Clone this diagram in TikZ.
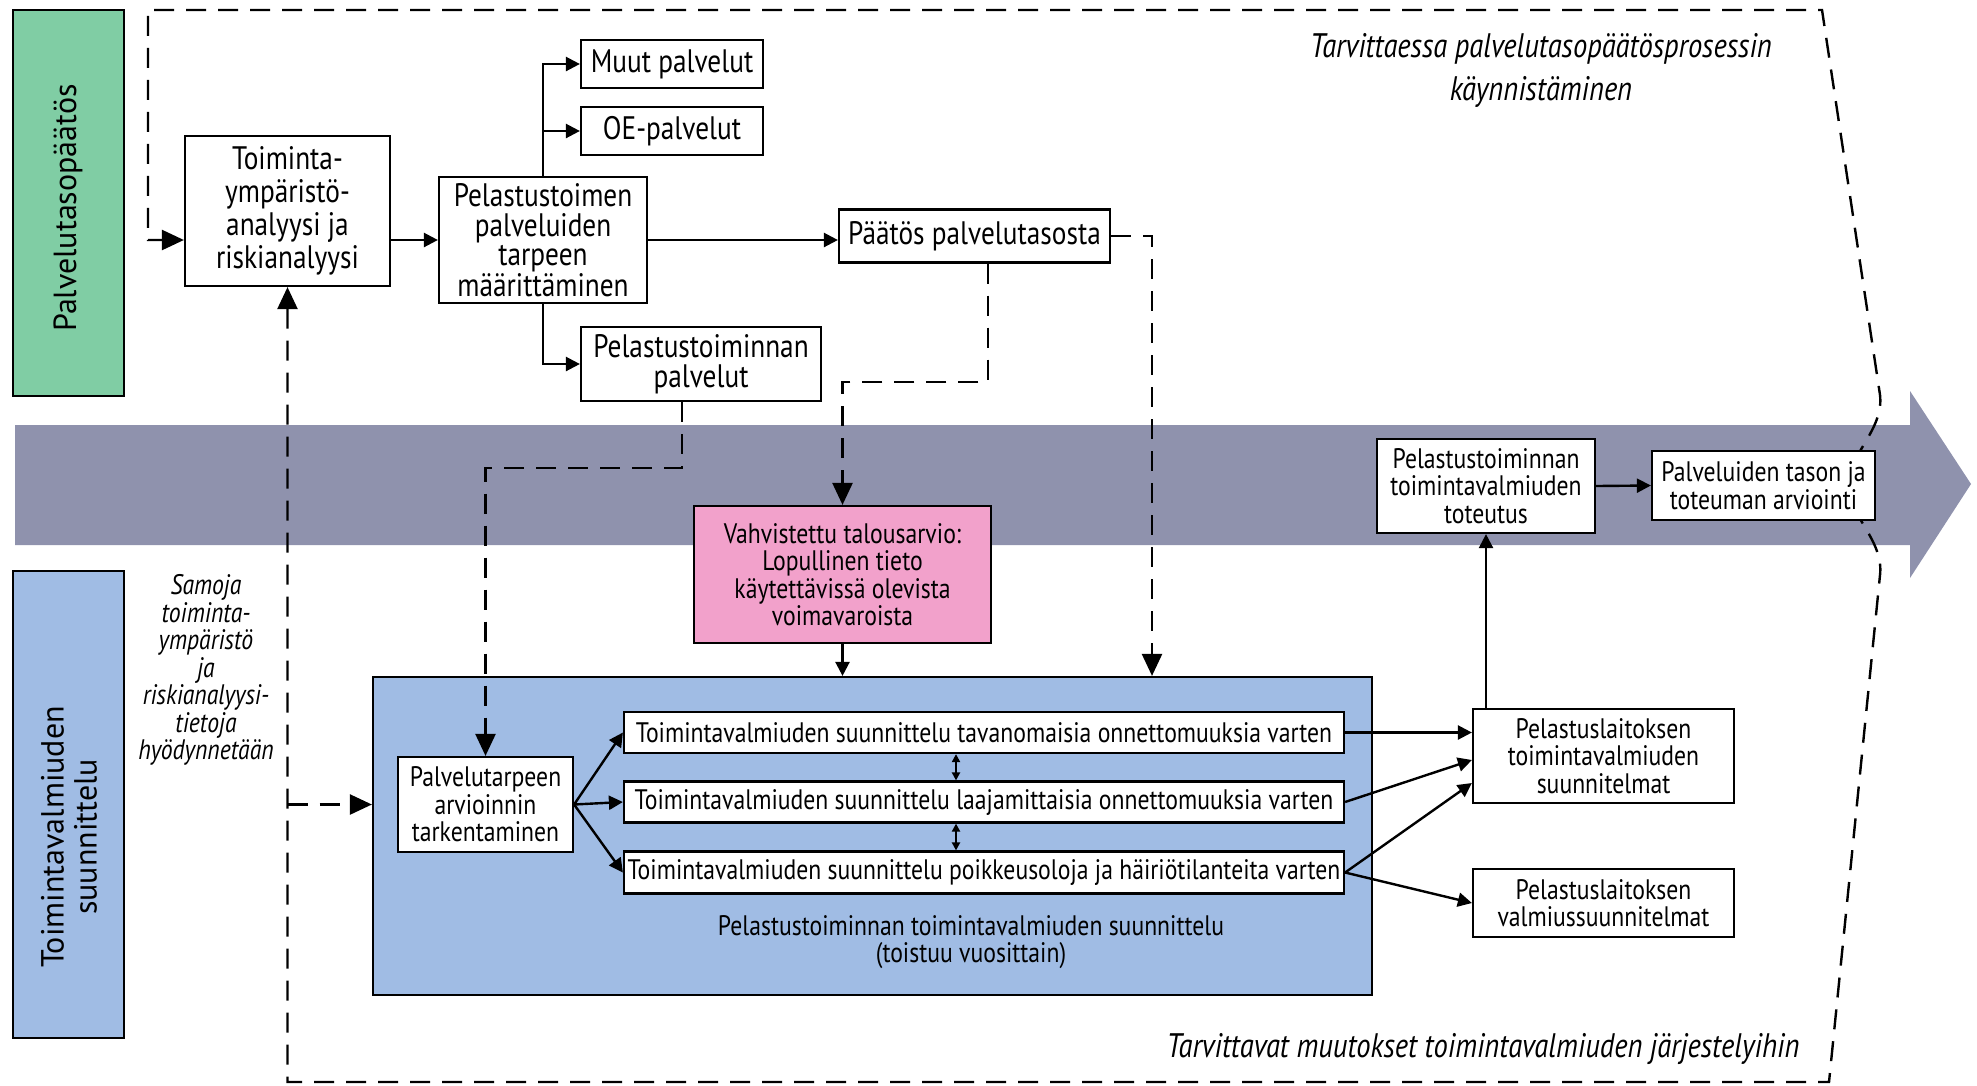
\documentclass[tikz,border=0pt]{standalone}
\usepackage{fontspec}
\setmainfont[FakeStretch=0.84]{PT Sans}
\newfontfamily\sidefont{PT Sans}
\usetikzlibrary{arrows.meta,calc}

\newcommand{\bigtxt}{\fontsize{32.5}{30}\selectfont}
\newcommand{\smltxt}{\fontsize{28.2}{27.5}\selectfont}

\definecolor{paatosgreen}{RGB}{128,205,164}
\definecolor{suunnblue}{RGB}{160,188,228}
\definecolor{bandgrey}{RGB}{143,146,173}
\definecolor{talouspink}{RGB}{242,161,203}

\begin{document}
\begin{tikzpicture}[x=1pt,y=-1pt,
    box/.style={draw, line width=2.2pt, fill=white, align=center, inner sep=0pt, font=\smltxt},
    bigbox/.style={box, font=\bigtxt},
    arr/.style={line width=2.4pt, -{Triangle[length=14pt,width=14pt]}},
    darr/.style={line width=2.4pt, dash pattern=on 20pt off 12pt, -{Triangle[length=22pt,width=20pt]}},
    dblarr/.style={line width=2pt, {Triangle[length=8pt,width=8pt]}-{Triangle[length=8pt,width=8pt]}},
    note/.style={align=center, font=\fontsize{34}{36}\selectfont\itshape}]
  \useasboundingbox (0,0) rectangle (1977,1085);

  % Draw the time arrow in the middle
  \fill[bandgrey] (15,425) -- (1910,425) -- (1910,391) -- (1971,484) -- (1910,578) -- (1910,545) -- (15,545) -- cycle;

  % Draw the two phase labels on the left
  \draw[line width=2.2pt, fill=paatosgreen] (13,10) rectangle (124,396);
  \node[rotate=90, font=\sidefont\fontsize{32}{33}\selectfont] (tasolbl) at (68,208) {Palvelutasopäätös};
  \draw[line width=2.2pt, fill=suunnblue] (13,571) rectangle (124,1038);
  \node[rotate=90, align=center, font=\sidefont\fontsize{32}{33}\selectfont] (valmlbl) at (69,837) {Toimintavalmiuden\\suunnittelu};

  % Palvelutasopaatos: upper boxes
  \node[bigbox, minimum width=205pt, minimum height=150pt, font=\fontsize{32.5}{33}\selectfont] (tmy) at (287.5,211) {Toiminta-\\ympäristö-\\analyysi ja\\riskianalyysi};
  \node[bigbox, minimum width=208pt, minimum height=126pt, font=\fontsize{32.5}{29.5}\selectfont] (pst) at (543,240) {Pelastustoimen\\palveluiden\\tarpeen\\määrittäminen};
  \node[bigbox, minimum width=182pt, minimum height=48pt] (muut) at (672,64) {Muut palvelut};
  \node[bigbox, minimum width=182pt, minimum height=48pt] (oe) at (672,131) {OE-palvelut};
  \node[bigbox, minimum width=240pt, minimum height=74pt, font=\fontsize{32.5}{29.5}\selectfont] (ptp) at (701,364) {Pelastustoiminnan\\palvelut};
  \node[bigbox, minimum width=271pt, minimum height=53pt] (paatos) at (974.5,236) {Päätös palvelutasosta};

  % Toimintavalmiuden suunnittelu: lower boxes
  \node[draw, line width=2.2pt, fill=suunnblue, minimum width=999pt, minimum height=318pt] (suunn) at (872.5,836) {};
  \node[align=center, font=\smltxt] (suunnlbl) at (971,942) {Pelastustoiminnan toimintavalmiuden suunnittelu\\(toistuu vuosittain)};
  \node[box, fill=talouspink, minimum width=297pt, minimum height=137pt] (talous) at (842.5,574.5) {Vahvistettu talousarvio:\\Lopullinen tieto\\käytettävissä olevista\\voimavaroista};
  \node[box, minimum width=175pt, minimum height=95pt] (tark) at (485.5,804.5) {Palvelutarpeen\\arvioinnin\\tarkentaminen};
  \node[box, minimum width=720pt, minimum height=41pt] (tv1) at (984,732.5) {Toimintavalmiuden suunnittelu tavanomaisia onnettomuuksia varten};
  \node[box, minimum width=720pt, minimum height=41pt] (tv2) at (984,802) {Toimintavalmiuden suunnittelu laajamittaisia onnettomuuksia varten};
  \node[box, minimum width=720pt, minimum height=42pt] (tv3) at (984,872.5) {Toimintavalmiuden suunnittelu poikkeusoloja ja häiriötilanteita varten};
  \node[box, minimum width=261pt, minimum height=94pt] (suun) at (1603.5,756) {Pelastuslaitoksen\\toimintavalmiuden\\suunnitelmat};
  \node[box, minimum width=261pt, minimum height=68pt] (valm) at (1603.5,903) {Pelastuslaitoksen\\valmiussuunnitelmat};
  \node[box, minimum width=218pt, minimum height=94pt] (toteutus) at (1486,486) {Pelastustoiminnan\\toimintavalmiuden\\toteutus};

  % Italic notes
  \node[note, font=\fontsize{34}{43}\selectfont\itshape] (ylanote) at (1541,70) {Tarvittaessa palvelutasopäätösprosessin\\käynnistäminen};
  \node[note] (alanote) at (1483,1049) {Tarvittavat muutokset toimintavalmiuden järjestelyihin};
  \node[note, font=\smltxt\itshape] (samoja) at (206,670) {Samoja\\toiminta-\\ympäristö\\ja\\riskianalyysi-\\tietoja\\hyödynnetään};

  % Feedback loop round the whole process
  \draw[darr, {Triangle[length=22pt,width=20pt]}-{Triangle[length=22pt,width=20pt]}] (tmy.south) -- (tmy.south |- 0,1082) -- (1829,1082) -- (1880,575)
    .. controls (1884,540) and (1848,515) .. (1848,485) .. controls (1848,455) and (1884,430) .. (1880,395)
    -- (1822,10) -- (148,10) -- (148,240) -- (tmy.west |- pst.west);
  \node[box, minimum width=223pt, minimum height=69pt] (arviointi) at (1763.5,485.5) {Palveluiden tason ja\\toteuman arviointi};

  % Solid connectors
  \draw[arr] (tmy.east |- pst.west) -- (pst.west);
  \draw[arr] (pst.north) |- (muut.west);
  \draw[arr] (pst.north) |- (oe.west);
  \draw[arr] (pst.south) |- (ptp.west);
  \draw[arr] (pst.east) -- (pst.east -| paatos.west);
  \draw[arr] (talous.south) -- (talous.south |- suunn.north);
  \draw[arr] (tark.east) -- (tv1.west);
  \draw[arr] (tark.east) -- (tv2.west);
  \draw[arr] (tark.east) -- (tv3.west);
  \draw[arr] (tv1.east) -- (tv1.east -| suun.west);
  \draw[arr] (tv2.east) -- ($(suun.west)+(0,4)$);
  \draw[arr] (tv3.east) -- ($(suun.west)+(0,27)$);
  \draw[arr] (tv3.east) -- (valm.west);
  \draw[arr] (toteutus.south |- suun.north) -- (toteutus.south);
  \draw[arr] (toteutus.east) -- (arviointi.west);
  \coordinate (dx) at (956,0);
  \draw[dblarr] (tv1.south -| dx) -- (tv2.north -| dx);
  \draw[dblarr] (tv2.south -| dx) -- (tv3.north -| dx);

  % Dashed connectors
  \coordinate (pdx) at (1152,0);
  \coordinate (bj1) at (988,382);
  \coordinate (bj2) at (682,468);
  \draw[darr] (paatos.east) -| (suunn.north -| pdx);
  \draw[darr] (paatos.south -| bj1) -- (bj1) -| (talous.north);
  \draw[darr] (ptp.south -| bj2) -- (bj2) -| (tark.north);
  \draw[darr] (tark.west -| tmy.south) -- (tark.west -| suunn.west);
\end{tikzpicture}
\end{document}
